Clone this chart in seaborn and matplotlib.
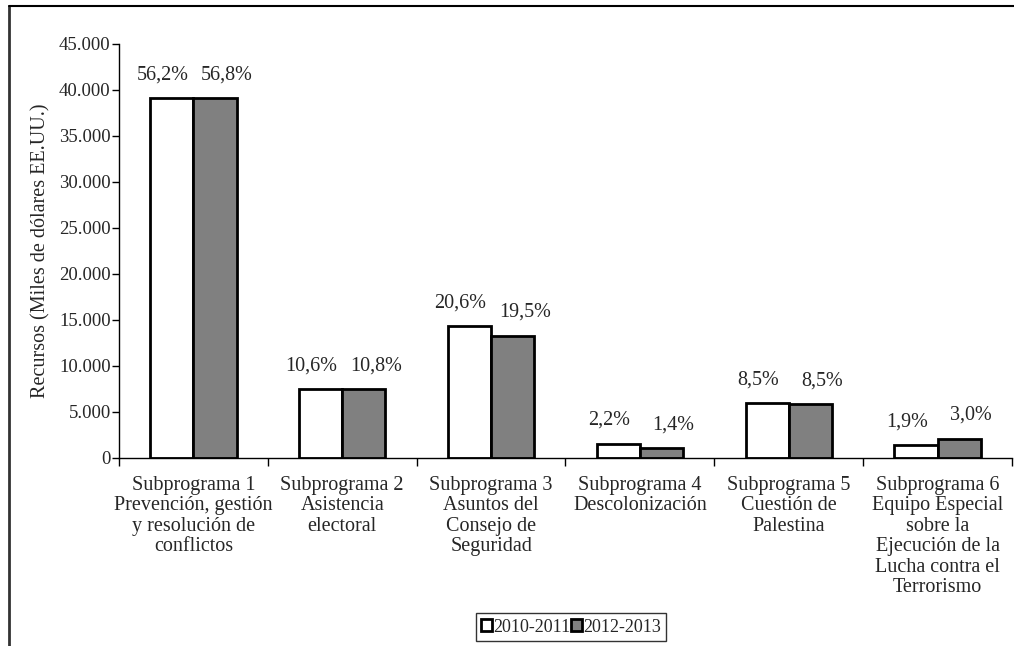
import numpy as np
import pandas as pd
import matplotlib
matplotlib.use("Agg")
import matplotlib.pyplot as plt
import seaborn as sns
from matplotlib.ticker import FuncFormatter, FixedLocator
from matplotlib.lines import Line2D

# Data
categories = [
    "Subprograma 1\nPrevención, gestión\ny resolución de\nconflictos",
    "Subprograma 2\nAsistencia\nelectoral",
    "Subprograma 3\nAsuntos del\nConsejo de\nSeguridad",
    "Subprograma 4\nDescolonización",
    "Subprograma 5\nCuestión de\nPalestina",
    "Subprograma 6\nEquipo Especial\nsobre la\nEjecución de la\nLucha contra el\nTerrorismo",
]
periods = ["2010-2011", "2012-2013"]
values_2010 = [39100, 7450, 14300, 1520, 5960, 1380]
values_2012 = [39100, 7450, 13300, 1050, 5860, 2090]
pct_2010 = ["56,2%", "10,6%", "20,6%", "2,2%", "8,5%", "1,9%"]
pct_2012 = ["56,8%", "10,8%", "19,5%", "1,4%", "8,5%", "3,0%"]

df = pd.DataFrame({
    "categoria": categories * 2,
    "periodo": [periods[0]] * 6 + [periods[1]] * 6,
    "valor": values_2010 + values_2012,
})

sns.set_theme(style="white")
plt.rcParams["font.family"] = ["Liberation Serif", "DejaVu Serif"]
FS = 14.5

fig = plt.figure(figsize=(10.14, 6.46), dpi=100)
ax = fig.add_axes([119 / 1014, 1 - 458 / 646, (1012 - 119) / 1014, (458 - 44) / 646])

sns.barplot(data=df, x="categoria", y="valor", hue="periodo",
            palette=["white", "#808080"], edgecolor="black", linewidth=2,
            width=0.58, ax=ax, legend=False)

# percentage labels, pushed apart so the pair does not collide
for cont, labs, dx in zip(ax.containers, [pct_2010, pct_2012], [-9, 12]):
    for bar, lab in zip(cont, labs):
        ax.annotate(lab, (bar.get_x() + bar.get_width() / 2, bar.get_height()),
                    xytext=(dx, 14), textcoords="offset pixels",
                    ha="center", va="bottom", fontsize=FS)

ax.set_ylim(0, 45000)
ax.set_xlim(-0.5, 5.5)
ax.set_yticks(np.arange(0, 45001, 5000))
ax.yaxis.set_major_formatter(FuncFormatter(lambda v, p: f"{int(v):,}".replace(",", ".")))
ax.set_xlabel("")
ax.set_ylabel("Recursos (Miles de dólares EE.UU.)", fontsize=FS, labelpad=6)

ax.tick_params(axis="y", which="major", direction="out", length=5, width=1,
               color="black", labelsize=13.5, left=True, pad=1)
ax.tick_params(axis="x", which="major", length=0, labelsize=FS, pad=13)
ax.xaxis.set_minor_locator(FixedLocator(np.arange(-0.5, 6.0, 1.0)))
ax.tick_params(axis="x", which="minor", direction="out", length=6, width=1,
               color="black", bottom=True)
for lab in ax.get_xticklabels():
    lab.set_horizontalalignment("center")
    lab.set_linespacing(1.1)

for s in ["top", "right"]:
    ax.spines[s].set_visible(False)
for s in ["left", "bottom"]:
    ax.spines[s].set_color("black")
    ax.spines[s].set_linewidth(1)

handles = [plt.Rectangle((0, 0), 1, 1, facecolor=c, edgecolor="black", linewidth=2)
           for c in ["white", "#808080"]]
leg = fig.legend(handles, periods, loc="center", bbox_to_anchor=(571 / 1014, 1 - 627 / 646),
                 ncol=2, frameon=True, fontsize=13, handlelength=0.6, handleheight=0.6,
                 handletextpad=0.05, columnspacing=0.05, borderpad=0.3, borderaxespad=0,
                 fancybox=False)
leg.get_frame().set_edgecolor("black")
leg.get_frame().set_linewidth(1)

# figure border (top and left)
fig.add_artist(Line2D([9 / 1014, 9 / 1014], [0, 1 - 6 / 646], transform=fig.transFigure,
                      color="#333333", linewidth=2))
fig.add_artist(Line2D([9 / 1014, 1], [1 - 6 / 646, 1 - 6 / 646], transform=fig.transFigure,
                      color="black", linewidth=1.5))

fig.savefig("out.png", dpi=100)
